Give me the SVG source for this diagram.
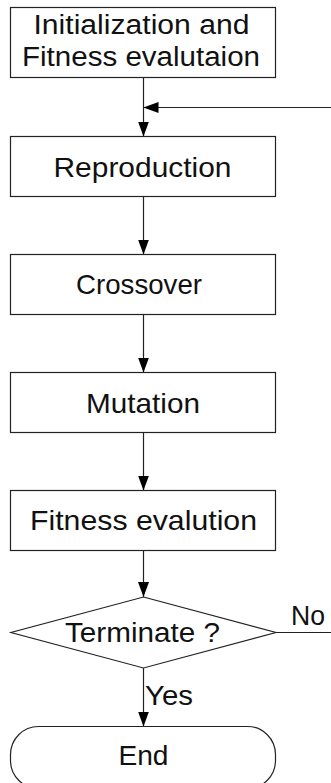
<svg xmlns="http://www.w3.org/2000/svg" width="331" height="783" viewBox="0 0 331 783">
  <defs>
    <style>
      .box { fill: #fff; stroke: #222; stroke-width: 1.2; }
      .lbl { font-family: "Liberation Sans", Arial, sans-serif; font-size: 28px; fill: #111; }
      .sm { font-size: 27px; }
      .conn { fill: none; stroke: #222; stroke-width: 1.2; }
    </style>
    <marker id="arr" markerUnits="userSpaceOnUse" markerWidth="15" markerHeight="11" refX="15" refY="5.5" orient="auto">
      <path d="M0,0 L15,5.5 L0,11 z" fill="#000"/>
    </marker>
  </defs>
  <rect width="331" height="783" fill="#fff"/>

  <g id="connectors">
    <line class="conn" x1="143.5" y1="77.5" x2="143.5" y2="136.5" marker-end="url(#arr)"/>
    <line class="conn" x1="331" y1="107.5" x2="143.5" y2="107.5" marker-end="url(#arr)"/>
    <line class="conn" x1="143.5" y1="196.5" x2="143.5" y2="254.5" marker-end="url(#arr)"/>
    <line class="conn" x1="143.5" y1="314.5" x2="143.5" y2="372.5" marker-end="url(#arr)"/>
    <line class="conn" x1="143.5" y1="432.5" x2="143.5" y2="490.5" marker-end="url(#arr)"/>
    <line class="conn" x1="143.5" y1="550.5" x2="143.5" y2="597" marker-end="url(#arr)"/>
    <line class="conn" x1="143.5" y1="668" x2="143.5" y2="726.5" marker-end="url(#arr)"/>
    <line class="conn" x1="276" y1="632.5" x2="331" y2="632.5"/>
    <text class="lbl" x="291" y="624.5" textLength="34" lengthAdjust="spacingAndGlyphs">No</text>
    <text class="lbl" x="145" y="705" textLength="48" lengthAdjust="spacingAndGlyphs">Yes</text>
  </g>

  <g id="init">
    <rect class="box" x="10.5" y="7.5" width="265" height="70"/>
    <text class="lbl sm" x="33.5" y="33.5" textLength="216" lengthAdjust="spacingAndGlyphs">Initialization and</text>
    <text class="lbl sm" x="22" y="66" textLength="238" lengthAdjust="spacingAndGlyphs">Fitness evalutaion</text>
  </g>

  <g id="reproduction">
    <rect class="box" x="10.5" y="136.5" width="265" height="60"/>
    <text class="lbl" x="53.5" y="176.5" textLength="178" lengthAdjust="spacingAndGlyphs">Reproduction</text>
  </g>

  <g id="crossover">
    <rect class="box" x="10.5" y="254.5" width="265" height="60"/>
    <text class="lbl" x="76" y="294.3" textLength="126" lengthAdjust="spacingAndGlyphs">Crossover</text>
  </g>

  <g id="mutation">
    <rect class="box" x="10.5" y="372.5" width="265" height="60"/>
    <text class="lbl" x="86" y="412.5" textLength="114" lengthAdjust="spacingAndGlyphs">Mutation</text>
  </g>

  <g id="fitness">
    <rect class="box" x="10.5" y="490.5" width="265" height="60"/>
    <text class="lbl" x="30" y="529.5" textLength="227" lengthAdjust="spacingAndGlyphs">Fitness evalution</text>
  </g>

  <g id="terminate">
    <polygon class="box" points="143.5,597 276,632.5 143.5,668 11,632.5"/>
    <text class="lbl sm" x="65" y="641.7" textLength="155" lengthAdjust="spacingAndGlyphs">Terminate ?</text>
  </g>

  <g id="end">
    <rect class="box" x="10.5" y="726.5" width="265" height="62" rx="28" ry="28"/>
    <text class="lbl" x="118.5" y="765" textLength="50" lengthAdjust="spacingAndGlyphs">End</text>
  </g>
</svg>
